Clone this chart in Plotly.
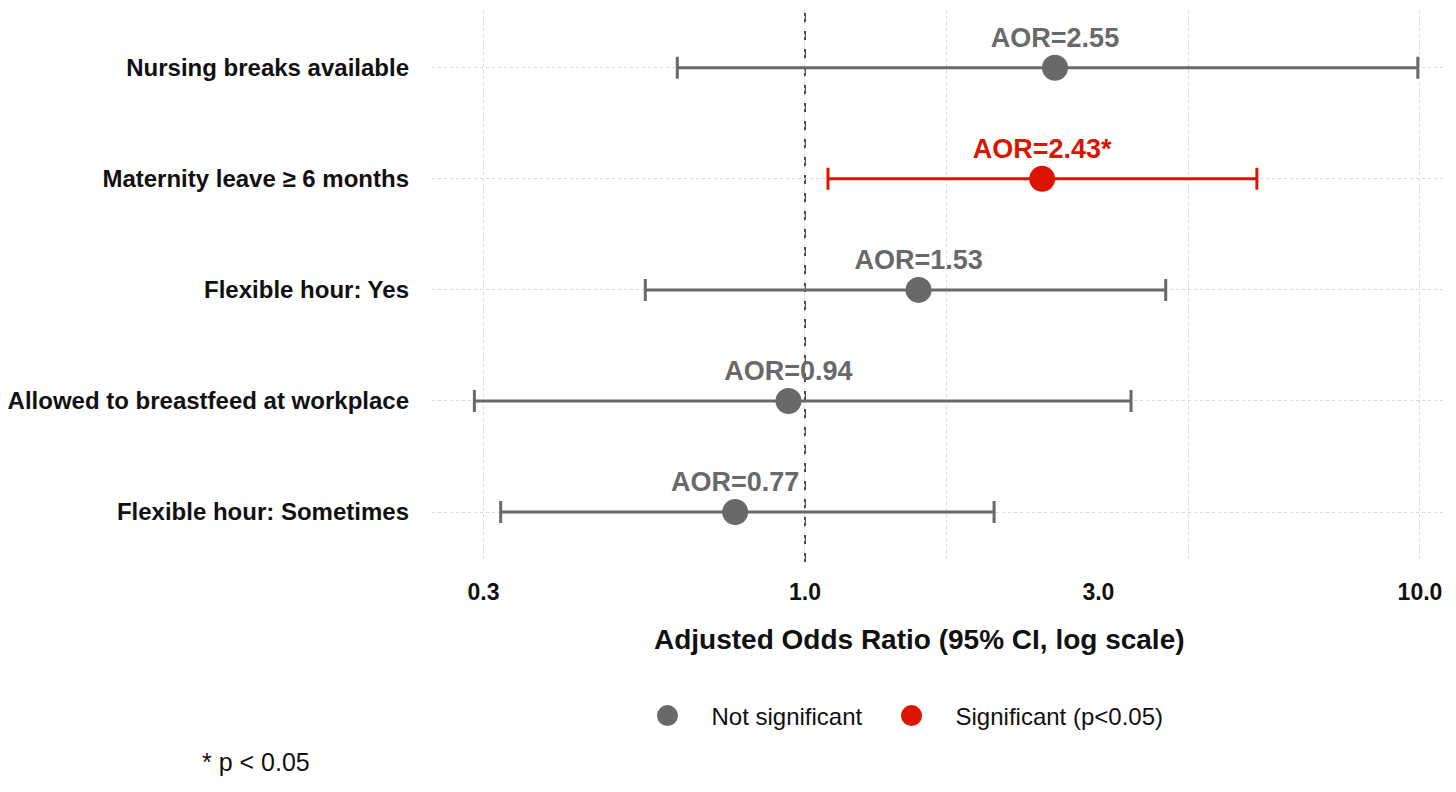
import plotly.graph_objects as go

# factors listed bottom -> top
factors = [
    "Flexible hour: Sometimes",
    "Allowed to breastfeed at workplace",
    "Flexible hour: Yes",
    "Maternity leave ≥ 6 months",
    "Nursing breaks available",
]
aor = [0.77, 0.94, 1.53, 2.43, 2.55]
ci_low = [0.32, 0.29, 0.55, 1.09, 0.62]
ci_high = [2.03, 3.39, 3.86, 5.43, 9.92]
significant = [False, False, False, True, False]

tick_vals = [0.3, 1, 3, 10]
tick_text = ["0.3", "1.0", "3.0", "10.0"]
grid_vals = [0.3, 1, 1.7, 4.2, 10]

GREY = "#696969"
RED = "#dc1400"
FONT = "Liberation Sans, Arial, sans-serif"

fig = go.Figure()

for sig, name, color in [(False, "Not significant", GREY), (True, "Significant (p<0.05)", RED)]:
    idx = [i for i, s in enumerate(significant) if s == sig]
    xs = [aor[i] for i in idx]
    ys = [factors[i] for i in idx]
    plus = [ci_high[i] - aor[i] for i in idx]
    minus = [aor[i] - ci_low[i] for i in idx]
    labels = ["AOR=%.2f%s" % (aor[i], "*" if sig else "") for i in idx]
    fig.add_trace(go.Scatter(
        x=xs, y=ys, name=name,
        mode="markers+text",
        text=labels,
        textposition="top center",
        textfont=dict(family=FONT, size=27, color=color, weight="bold"),
        marker=dict(size=21, color=color, line=dict(color=color, width=5)),
        error_x=dict(type="data", symmetric=False, array=plus, arrayminus=minus,
                     color=color, thickness=3, width=11),
        cliponaxis=False,
    ))

fig.add_shape(type="line", xref="x", yref="paper", x0=1, x1=1, y0=0, y1=1,
              line=dict(color="#222222", width=1.6, dash="dash"), layer="below")

# page has an 8px body margin, margins below compensate for it
fig.update_layout(
    width=1456, height=792,
    margin=dict(l=424, r=19, t=2, b=238),
    plot_bgcolor="white", paper_bgcolor="white",
    font=dict(family=FONT, color="#111111"),
    showlegend=True,
    legend=dict(orientation="h", x=0.458, xanchor="center", y=-0.279, yanchor="middle",
                font=dict(family=FONT, size=24, color="#111111"),
                itemwidth=78, tracegroupgap=0),
    xaxis=dict(
        type="log",
        range=[-0.6065, 1.0407],
        tickvals=tick_vals, ticktext=tick_text,
        tickfont=dict(family=FONT, size=23, color="#111111", weight="bold"),
        showgrid=False, zeroline=False, showline=False, ticks="",
        ticklabelstandoff=14, automargin=False,
        minor=dict(tickvals=grid_vals, showgrid=True, gridcolor="#d9d9d9",
                   griddash="dot", gridwidth=1, ticks=""),
    ),
    yaxis=dict(
        type="category",
        categoryorder="array", categoryarray=factors,
        range=[-0.45, 4.52],
        tickfont=dict(family=FONT, size=24, color="#111111", weight="bold"),
        showgrid=True, gridcolor="#d9d9d9", griddash="dot", gridwidth=1,
        zeroline=False, showline=False, ticks="",
        ticklabelstandoff=22, automargin=False,
    ),
    annotations=[
        dict(text="<b>Adjusted Odds Ratio (95% CI, log scale)</b>", xref="paper", yref="paper",
             x=0.4817, y=-0.141, xanchor="center", yanchor="middle", showarrow=False,
             font=dict(family=FONT, size=28, color="#111111")),
        dict(text="* p < 0.05", xref="paper", yref="paper",
             x=-0.229, y=-0.362, xanchor="left", yanchor="middle", showarrow=False,
             font=dict(family=FONT, size=25, color="#111111")),
    ],
)

fig.write_html("out.html")
